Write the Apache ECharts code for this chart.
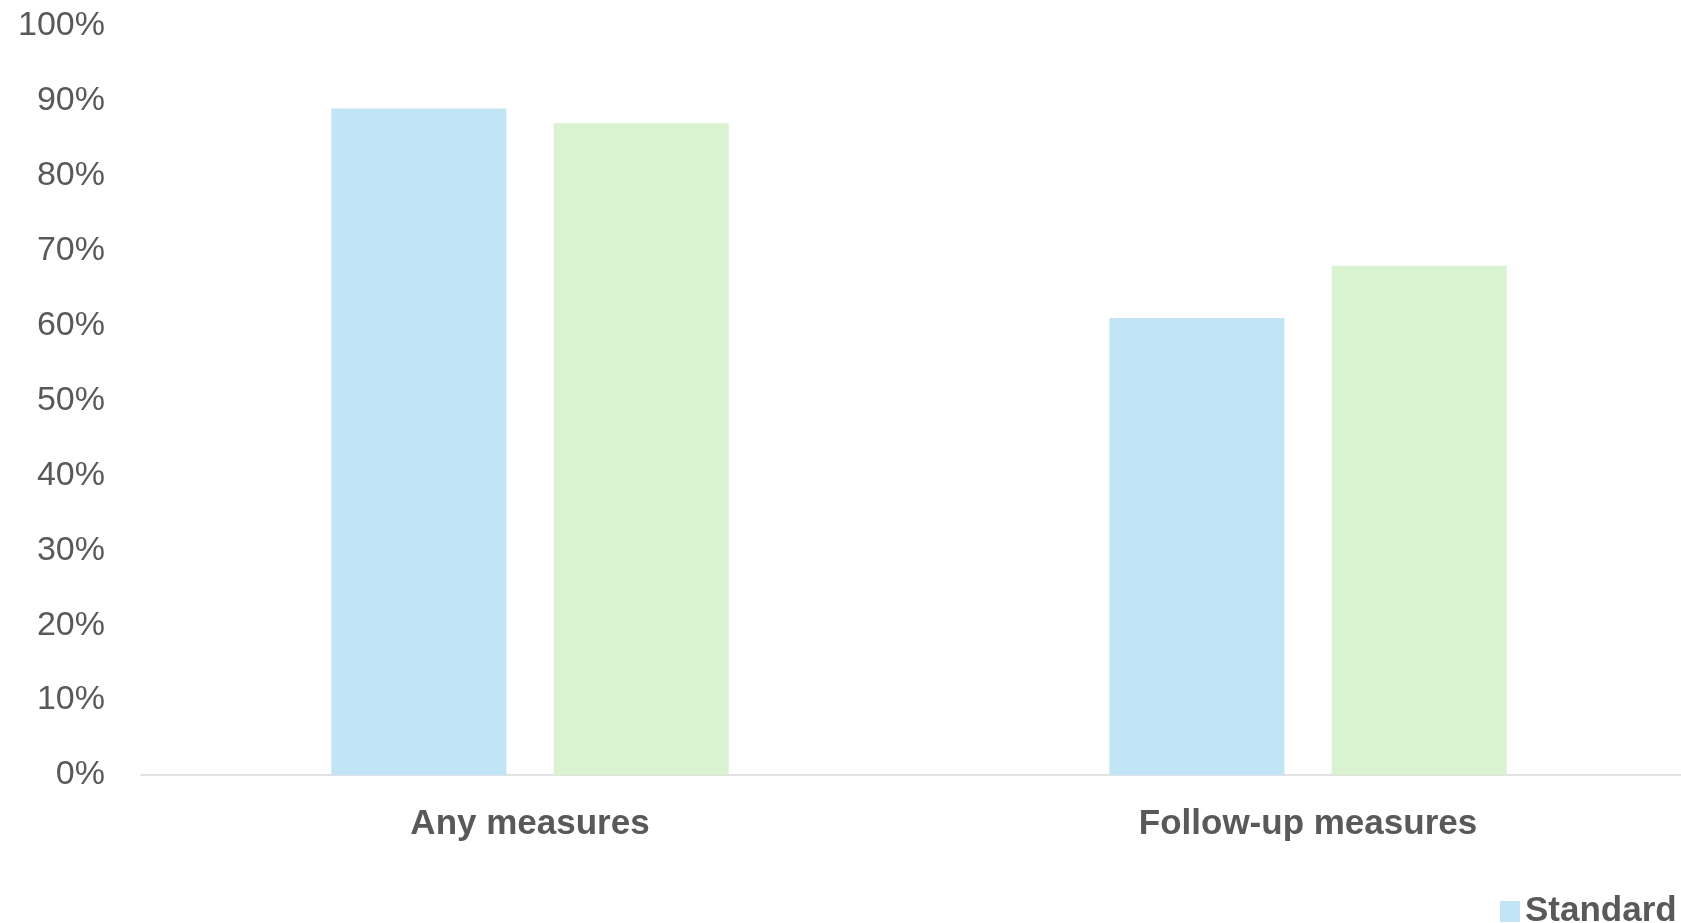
<!DOCTYPE html>
<html>
<head>
<meta charset="utf-8">
<style>
  html, body { margin: 0; padding: 0; background: #ffffff; overflow: hidden; }
  /* the canvas is a little wider than the window, so the plot area runs past the right edge */
  #chart { width: 1697px; height: 923px; }
</style>
<script src="https://cdn.jsdelivr.net/npm/echarts@6/dist/echarts.min.js"></script>
</head>
<body>
<div id="chart"></div>
<script>
// Share of cases with measures, by group
const categories = ['Any measures', 'Follow-up measures'];
const standardValues = [0.89, 0.61];
const comparisonValues = [0.87, 0.68];
const yTicks = [0, 0.1, 0.2, 0.3, 0.4, 0.5, 0.6, 0.7, 0.8, 0.9, 1.0];

const textColor = '#595959';
const fontFamily = 'Liberation Sans, Arial, sans-serif';

const chart = echarts.init(document.getElementById('chart'), null, { renderer: 'canvas' });

chart.setOption({
  animation: false,
  backgroundColor: '#ffffff',
  grid: { left: 141, right: 0, top: 26, bottom: 148, containLabel: false },
  legend: {
    data: ['Standard'],
    left: 1495,
    top: 889,
    itemWidth: 20,
    itemHeight: 21,
    itemGap: 10,
    icon: 'rect',
    textStyle: { color: textColor, fontSize: 35, fontWeight: 'bold', fontFamily: fontFamily }
  },
  xAxis: {
    type: 'category',
    data: categories,
    axisLine: { lineStyle: { color: '#d9d9d9', width: 1.5 } },
    axisTick: { show: false },
    axisLabel: {
      color: textColor,
      fontSize: 35,
      fontWeight: 'bold',
      fontFamily: fontFamily,
      margin: 32
    }
  },
  yAxis: {
    type: 'value',
    min: yTicks[0],
    max: yTicks[yTicks.length - 1],
    interval: 0.1,
    axisLine: { show: false },
    axisTick: { show: false },
    splitLine: { show: false },
    axisLabel: {
      color: textColor,
      fontSize: 34,
      fontFamily: fontFamily,
      margin: 36,
      formatter: v => Math.round(v * 100) + '%'
    }
  },
  series: [
    {
      name: 'Standard',
      type: 'bar',
      data: standardValues,
      barWidth: '22.5%',
      barGap: '27%',
      itemStyle: { color: '#C1E5F5' }
    },
    {
      name: 'Comparison',
      type: 'bar',
      data: comparisonValues,
      barWidth: '22.5%',
      barGap: '27%',
      itemStyle: { color: '#D9F2D0' }
    }
  ]
});
</script>
</body>
</html>
